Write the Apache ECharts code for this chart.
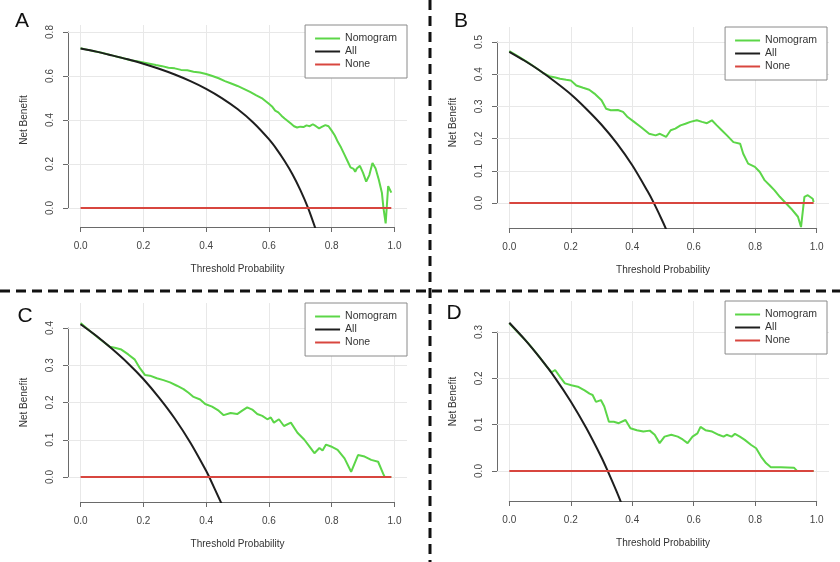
<!DOCTYPE html>
<html>
<head>
<meta charset="utf-8">
<script src="https://cdn.jsdelivr.net/npm/echarts@6.0.0/dist/echarts.min.js"></script>
<style>
html,body{margin:0;padding:0;background:#fff;}
#chart{width:840px;height:562px;}
</style>
</head>
<body>
<div id="chart"></div>
<script>
// tick labels
var xTicks = [0, 0.2, 0.4, 0.6, 0.8, 1.0];
var yTicksA = [0, 0.2, 0.4, 0.6, 0.8];
var yTicksB = [0, 0.1, 0.2, 0.3, 0.4, 0.5];
var yTicksC = [0, 0.1, 0.2, 0.3, 0.4];
var yTicksD = [0, 0.1, 0.2, 0.3];
var legendNames = ['Nomogram', 'All', 'None'];

// [threshold, net benefit]
var nomogramA = [[0,0.726],[0.02,0.720],[0.04,0.714],[0.06,0.708],[0.08,0.701],[0.10,0.694],[0.12,0.687],[0.14,0.680],[0.16,0.672],[0.18,0.667],[0.20,0.662],[0.22,0.656],[0.24,0.650],[0.26,0.645],[0.28,0.638],[0.30,0.635],[0.32,0.628],[0.34,0.626],[0.36,0.620],[0.38,0.616],[0.40,0.609],[0.42,0.600],[0.44,0.590],[0.46,0.577],[0.48,0.566],[0.50,0.555],[0.52,0.542],[0.54,0.528],[0.56,0.512],[0.58,0.497],[0.60,0.474],[0.61,0.462],[0.62,0.443],[0.63,0.435],[0.64,0.420],[0.65,0.407],[0.66,0.396],[0.67,0.384],[0.68,0.372],[0.69,0.366],[0.70,0.370],[0.71,0.368],[0.72,0.376],[0.73,0.372],[0.74,0.381],[0.75,0.372],[0.76,0.362],[0.77,0.370],[0.78,0.377],[0.79,0.372],[0.80,0.352],[0.81,0.330],[0.82,0.300],[0.83,0.275],[0.84,0.245],[0.85,0.215],[0.86,0.185],[0.87,0.178],[0.875,0.165],[0.88,0.180],[0.89,0.192],[0.90,0.160],[0.91,0.120],[0.92,0.150],[0.93,0.205],[0.94,0.180],[0.95,0.130],[0.96,0.070],[0.965,0.000],[0.972,-0.070],[0.98,0.100],[0.99,0.070]];
var allA = [[0,0.725],[0.05,0.711],[0.1,0.694],[0.15,0.676],[0.2,0.656],[0.25,0.633],[0.3,0.607],[0.35,0.577],[0.4,0.542],[0.45,0.5],[0.5,0.45],[0.55,0.389],[0.6,0.313],[0.625,0.267],[0.65,0.214],[0.675,0.154],[0.7,0.083],[0.725,0],[0.75,-0.1]];
var noneA = [[0,0],[0.99,0]];

var nomogramB = [[0,0.472],[0.03,0.455],[0.06,0.437],[0.09,0.418],[0.11,0.404],[0.13,0.394],[0.15,0.39],[0.165,0.386],[0.185,0.383],[0.20,0.381],[0.218,0.365],[0.24,0.358],[0.26,0.352],[0.277,0.34],[0.30,0.319],[0.315,0.293],[0.33,0.288],[0.353,0.289],[0.37,0.283],[0.385,0.267],[0.406,0.252],[0.428,0.236],[0.455,0.215],[0.476,0.21],[0.49,0.215],[0.51,0.205],[0.525,0.226],[0.54,0.231],[0.557,0.241],[0.573,0.246],[0.589,0.252],[0.61,0.257],[0.627,0.252],[0.643,0.248],[0.659,0.257],[0.675,0.241],[0.691,0.226],[0.708,0.21],[0.729,0.189],[0.751,0.184],[0.761,0.153],[0.777,0.122],[0.799,0.112],[0.815,0.096],[0.831,0.07],[0.847,0.055],[0.863,0.039],[0.88,0.019],[0.896,0.003],[0.917,-0.018],[0.939,-0.043],[0.949,-0.075],[0.96,0.019],[0.971,0.024],[0.987,0.013],[0.99,0.003]];
var allB = [[0,0.47],[0.05,0.442],[0.1,0.411],[0.15,0.376],[0.2,0.338],[0.25,0.293],[0.3,0.243],[0.35,0.185],[0.4,0.117],[0.45,0.036],[0.47,0],[0.5,-0.06],[0.52,-0.104]];
var noneB = [[0,0],[0.99,0]];

var nomogramC = [[0,0.413],[0.03,0.392],[0.06,0.371],[0.093,0.35],[0.109,0.347],[0.13,0.342],[0.152,0.329],[0.173,0.315],[0.189,0.292],[0.205,0.274],[0.221,0.272],[0.243,0.265],[0.264,0.26],[0.285,0.254],[0.307,0.245],[0.328,0.236],[0.344,0.226],[0.36,0.215],[0.381,0.208],[0.397,0.196],[0.419,0.189],[0.44,0.178],[0.456,0.166],[0.478,0.172],[0.499,0.169],[0.515,0.178],[0.531,0.187],[0.547,0.181],[0.563,0.169],[0.579,0.164],[0.595,0.155],[0.606,0.16],[0.616,0.146],[0.632,0.155],[0.648,0.137],[0.67,0.146],[0.691,0.119],[0.713,0.1],[0.729,0.082],[0.745,0.064],[0.761,0.078],[0.771,0.071],[0.782,0.087],[0.798,0.082],[0.819,0.073],[0.841,0.05],[0.862,0.014],[0.884,0.059],[0.905,0.055],[0.926,0.046],[0.948,0.041],[0.964,0.009],[0.969,0],[0.99,0]];
var allC = [[0,0.41],[0.05,0.379],[0.1,0.344],[0.15,0.306],[0.2,0.263],[0.25,0.213],[0.3,0.157],[0.35,0.092],[0.4,0.017],[0.41,0],[0.45,-0.073]];
var noneC = [[0,0],[0.99,0]];

var nomogramD = [[0,0.319],[0.03,0.298],[0.06,0.277],[0.09,0.253],[0.12,0.227],[0.138,0.213],[0.149,0.218],[0.165,0.203],[0.181,0.189],[0.202,0.185],[0.223,0.182],[0.245,0.174],[0.261,0.167],[0.271,0.164],[0.282,0.149],[0.298,0.153],[0.309,0.139],[0.324,0.106],[0.34,0.106],[0.356,0.103],[0.378,0.11],[0.394,0.092],[0.415,0.088],[0.436,0.085],[0.457,0.087],[0.473,0.078],[0.489,0.06],[0.505,0.074],[0.527,0.078],[0.548,0.074],[0.564,0.068],[0.58,0.06],[0.596,0.074],[0.612,0.081],[0.622,0.095],[0.638,0.088],[0.66,0.085],[0.681,0.078],[0.697,0.074],[0.707,0.078],[0.723,0.074],[0.734,0.08],[0.75,0.074],[0.766,0.067],[0.787,0.056],[0.803,0.049],[0.819,0.031],[0.835,0.017],[0.851,0.008],[0.883,0.008],[0.926,0.007],[0.936,0],[0.99,0]];
var allD = [[0,0.32],[0.05,0.284],[0.1,0.244],[0.15,0.2],[0.2,0.15],[0.25,0.093],[0.3,0.029],[0.32,0],[0.35,-0.046],[0.37,-0.079]];
var noneD = [[0,0],[0.99,0]];

var FONT = '"Liberation Sans", Arial, sans-serif';
var GREEN = '#5cd648', BLACK = '#1e1e1e', RED = '#d8463f';

// layout of the four panels (plot region + axis region like R's base graphics)
var panels = [
    {letter:'A', lx:22, ly:21, nomo:nomogramA, all:allA, none:noneA, yTicks:yTicksA,
     plot:{left:68, top:25, width:339, height:202}, yMin:-0.086, yMax:0.832,
     axis:{left:80.6, top:32, width:313.9, height:176}, xOff:19, yOff:12.6, legend:{right:433, top:25}},
    {letter:'B', lx:461, ly:21, nomo:nomogramB, all:allB, none:noneB, yTicks:yTicksB,
     plot:{left:497, top:27, width:332, height:201}, yMin:-0.078, yMax:0.547,
     axis:{left:509.3, top:42, width:307.4, height:161}, xOff:25, yOff:12.3, legend:{right:13, top:27}},
    {letter:'C', lx:25, ly:316, nomo:nomogramC, all:allC, none:noneC, yTicks:yTicksC,
     plot:{left:68, top:303, width:339, height:199}, yMin:-0.067, yMax:0.467,
     axis:{left:80.6, top:328, width:313.9, height:149}, xOff:25, yOff:12.6, legend:{right:433, top:303}},
    {letter:'D', lx:454, ly:313, nomo:nomogramD, all:allD, none:noneD, yTicks:yTicksD,
     plot:{left:497, top:301, width:332, height:200}, yMin:-0.065, yMax:0.367,
     axis:{left:509.3, top:332, width:307.4, height:139}, xOff:30, yOff:12.3, legend:{right:13, top:301}}
];

function fmt(v){
    return (Math.round(v * 10) / 10).toFixed(1);
}

var grids = [], xAxes = [], yAxes = [], series = [], legends = [], graphics = [];

panels.forEach(function(p, i){
    var g = i * 2;
    var yt = p.yTicks;
    // plot region
    grids.push({left:p.plot.left, top:p.plot.top, width:p.plot.width, height:p.plot.height});
    xAxes.push({type:'value', gridIndex:g, min:-0.04, max:1.04, show:false});
    yAxes.push({type:'value', gridIndex:g, min:p.yMin, max:p.yMax, show:false});
    // axis region (axis lines span only first..last tick)
    grids.push({left:p.axis.left, top:p.axis.top, width:p.axis.width, height:p.axis.height});
    xAxes.push({
        type:'value', gridIndex:g + 1, min:xTicks[0], max:xTicks[xTicks.length - 1],
        interval:xTicks[1] - xTicks[0], offset:p.xOff,
        name:'Threshold Probability', nameLocation:'middle', nameGap:37,
        nameTextStyle:{fontSize:10, color:'#333', fontFamily:FONT},
        axisLine:{show:true, onZero:false, lineStyle:{color:'#6a6a6a', width:1}},
        axisTick:{show:true, length:5, lineStyle:{color:'#6a6a6a', width:1}},
        axisLabel:{fontSize:10, color:'#444', fontFamily:FONT, margin:14, formatter:fmt},
        splitLine:{show:false}
    });
    yAxes.push({
        type:'value', gridIndex:g + 1, min:yt[0], max:yt[yt.length - 1],
        interval:Math.round((yt[1] - yt[0]) * 10) / 10, offset:p.yOff,
        name:'Net Benefit', nameLocation:'middle', nameGap:39,
        nameTextStyle:{fontSize:10, color:'#333', fontFamily:FONT},
        axisLine:{show:true, onZero:false, lineStyle:{color:'#6a6a6a', width:1}},
        axisTick:{show:true, length:5, lineStyle:{color:'#6a6a6a', width:1}},
        axisLabel:{fontSize:10, color:'#444', fontFamily:FONT, margin:13, rotate:90, formatter:fmt},
        splitLine:{show:false}
    });

    var gridLines = xTicks.map(function(v){ return {xAxis:v}; })
        .concat(yt.map(function(v){ return {yAxis:v}; }));

    series.push({
        name:'Nomogram', type:'line', xAxisIndex:g, yAxisIndex:g, data:p.nomo,
        symbol:'none', lineStyle:{color:GREEN, width:2}, itemStyle:{color:GREEN},
        markLine:{silent:true, z:1, symbol:['none','none'], label:{show:false}, animation:false,
            lineStyle:{color:'#e8e8e8', type:'solid', width:1}, data:gridLines}
    });
    series.push({
        name:'All', type:'line', xAxisIndex:g, yAxisIndex:g, data:p.all, smooth:0.3,
        symbol:'none', lineStyle:{color:BLACK, width:2}, itemStyle:{color:BLACK}
    });
    series.push({
        name:'None', type:'line', xAxisIndex:g, yAxisIndex:g, data:p.none,
        symbol:'none', lineStyle:{color:RED, width:2}, itemStyle:{color:RED}
    });

    legends.push({
        data:legendNames, orient:'vertical', right:p.legend.right, top:p.legend.top,
        padding:[8, 10, 8, 10], itemGap:2, itemWidth:25, itemHeight:2, icon:'rect',
        borderColor:'#8a8a8a', borderWidth:1, backgroundColor:'#fff', selectedMode:false,
        textStyle:{fontSize:10.5, color:'#333', fontFamily:FONT}
    });

    graphics.push({
        type:'text', x:p.lx, y:p.ly,
        style:{text:p.letter, font:'21px ' + FONT, fill:'#111', align:'center', verticalAlign:'middle'}
    });
});

// dashed dividers
graphics.push({type:'line', shape:{x1:430, y1:0, x2:430, y2:562},
    style:{stroke:'#111', lineWidth:3, lineDash:[10, 6]}});
graphics.push({type:'line', shape:{x1:0, y1:291, x2:840, y2:291},
    style:{stroke:'#111', lineWidth:3, lineDash:[10, 6]}});

var myChart = echarts.init(document.getElementById('chart'));
myChart.setOption({
    animation:false,
    backgroundColor:'#fff',
    grid:grids,
    xAxis:xAxes,
    yAxis:yAxes,
    legend:legends,
    series:series,
    graphic:graphics
});
</script>
</body>
</html>
